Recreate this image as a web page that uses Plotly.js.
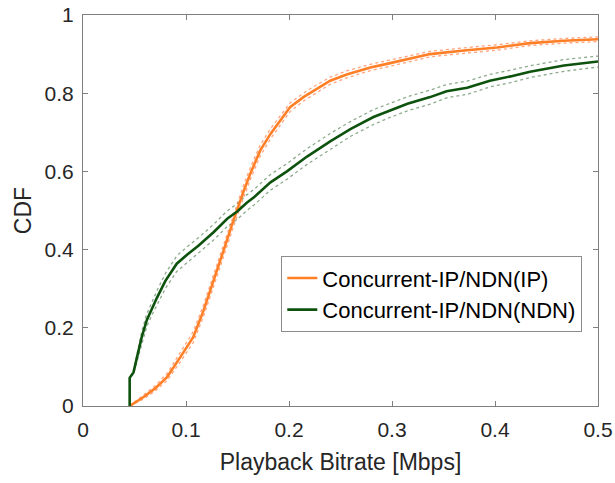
<!DOCTYPE html>
<html>
<head>
<meta charset="utf-8">
<script src="https://cdn.plot.ly/plotly-3.0.1.min.js"></script>
<style>html,body{margin:0;padding:0;background:#fff;}#chart{width:615px;height:483px;}</style>
</head>
<body>
<div id="chart"></div>
<script>
// Concurrent-IP/NDN(IP) CDF (orange)
const ipX = [0.0453, 0.0588, 0.070, 0.0816, 0.0945, 0.107, 0.117, 0.127, 0.1365, 0.146, 0.1527, 0.156, 0.1624, 0.172, 0.182, 0.1915, 0.201, 0.214, 0.224, 0.240, 0.256, 0.279, 0.295, 0.321, 0.337, 0.370, 0.402, 0.434, 0.467, 0.500];
const ipY = [0, 0.023, 0.045, 0.074, 0.125, 0.176, 0.244, 0.321, 0.398, 0.474, 0.526, 0.550, 0.594, 0.653, 0.696, 0.730, 0.764, 0.790, 0.807, 0.832, 0.848, 0.866, 0.875, 0.890, 0.900, 0.909, 0.917, 0.928, 0.934, 0.938];
const ipUp = [0, 0.028, 0.052, 0.083, 0.137, 0.190, 0.259, 0.337, 0.414, 0.490, 0.542, 0.566, 0.609, 0.667, 0.709, 0.742, 0.775, 0.800, 0.817, 0.841, 0.857, 0.874, 0.883, 0.897, 0.907, 0.916, 0.924, 0.934, 0.940, 0.944];
const ipLo = [0, 0.018, 0.038, 0.065, 0.113, 0.162, 0.229, 0.305, 0.382, 0.458, 0.510, 0.534, 0.579, 0.639, 0.683, 0.718, 0.753, 0.780, 0.797, 0.823, 0.839, 0.858, 0.867, 0.883, 0.893, 0.902, 0.910, 0.922, 0.928, 0.932];

// Concurrent-IP/NDN(NDN) CDF (green)
const ndnX = [0.0453, 0.0453, 0.049, 0.053, 0.057, 0.062, 0.067, 0.072, 0.080, 0.091, 0.101, 0.112, 0.127, 0.140, 0.150, 0.159, 0.166, 0.182, 0.198, 0.2175, 0.240, 0.260, 0.282, 0.298, 0.315, 0.337, 0.353, 0.373, 0.395, 0.415, 0.434, 0.467, 0.500];
const ndnY = [0, 0.072, 0.086, 0.130, 0.176, 0.220, 0.250, 0.278, 0.320, 0.364, 0.387, 0.410, 0.445, 0.479, 0.498, 0.520, 0.534, 0.572, 0.600, 0.638, 0.677, 0.709, 0.739, 0.756, 0.773, 0.790, 0.805, 0.814, 0.832, 0.843, 0.855, 0.871, 0.881];
const ndnUp = [0, 0.072, 0.090, 0.140, 0.190, 0.236, 0.267, 0.296, 0.339, 0.384, 0.407, 0.430, 0.465, 0.499, 0.518, 0.540, 0.554, 0.592, 0.620, 0.658, 0.697, 0.728, 0.758, 0.774, 0.791, 0.808, 0.822, 0.831, 0.848, 0.859, 0.870, 0.886, 0.895];
const ndnLo = [0, 0.072, 0.082, 0.120, 0.162, 0.204, 0.233, 0.260, 0.301, 0.344, 0.367, 0.390, 0.425, 0.459, 0.478, 0.500, 0.514, 0.552, 0.580, 0.618, 0.657, 0.690, 0.720, 0.738, 0.755, 0.772, 0.788, 0.797, 0.816, 0.827, 0.840, 0.856, 0.867];

const names = ['Concurrent-IP/NDN(IP)', 'Concurrent-IP/NDN(NDN)'];
const xTicks = [0, 0.1, 0.2, 0.3, 0.4, 0.5];
const xTickText = ['0', '0.1', '0.2', '0.3', '0.4', '0.5'];
const yTicks = [0, 0.2, 0.4, 0.6, 0.8, 1];
const yTickText = ['0', '0.2', '0.4', '0.6', '0.8', '1'];

const orange = '#ff7f27';
const orangeLight = 'rgba(255,125,70,0.7)';
const green = '#0d520d';
const greenLight = 'rgba(80,125,80,0.65)';
const FONT = 'Liberation Sans, Arial, sans-serif';

function band(x, y, color) {
  return {x: x, y: y, mode: 'lines', line: {color: color, width: 1.3, dash: 'dot'}, showlegend: false, hoverinfo: 'skip'};
}

const traces = [
  band(ipX, ipUp, orangeLight),
  band(ipX, ipLo, orangeLight),
  band(ndnX, ndnUp, greenLight),
  band(ndnX, ndnLo, greenLight),
  {x: ipX, y: ipY, name: names[0], mode: 'lines', line: {color: orange, width: 2.6}},
  {x: ndnX, y: ndnY, name: names[1], mode: 'lines', line: {color: green, width: 2.6}}
];

const axisCommon = {
  showgrid: false, zeroline: false, showline: true, linecolor: '#7f7f7f', linewidth: 1,
  mirror: 'allticks', ticks: 'inside', ticklen: 5, tickcolor: '#7f7f7f', tickwidth: 1,
  tickfont: {family: FONT, size: 21, color: '#262626'}
};

const layout = {
  width: 615, height: 483,
  margin: {l: 83, r: 17, t: 15, b: 77},
  paper_bgcolor: '#fff', plot_bgcolor: '#fff',
  font: {family: FONT, color: '#262626'},
  xaxis: Object.assign({}, axisCommon, {
    range: [0, 0.5], tickvals: xTicks, ticktext: xTickText, ticklabelstandoff: 5,
    title: {text: 'Playback Bitrate [Mbps]', font: {family: FONT, size: 23, color: '#262626'}, standoff: 13}
  }),
  yaxis: Object.assign({}, axisCommon, {
    range: [0, 1], tickvals: yTicks, ticktext: yTickText, ticklabelstandoff: 4,
    title: {text: 'CDF', font: {family: FONT, size: 23, color: '#262626'}, standoff: 6}
  }),
  legend: {
    x: 0.385, y: 0.383, xanchor: 'left', yanchor: 'top',
    bgcolor: '#fff', bordercolor: '#8c8c8c', borderwidth: 1,
    font: {family: FONT, size: 22, color: '#000'},
    tracegroupgap: 0
  },
  showlegend: true
};

Plotly.newPlot('chart', traces, layout, {displayModeBar: false, staticPlot: true});
</script>
</body>
</html>
